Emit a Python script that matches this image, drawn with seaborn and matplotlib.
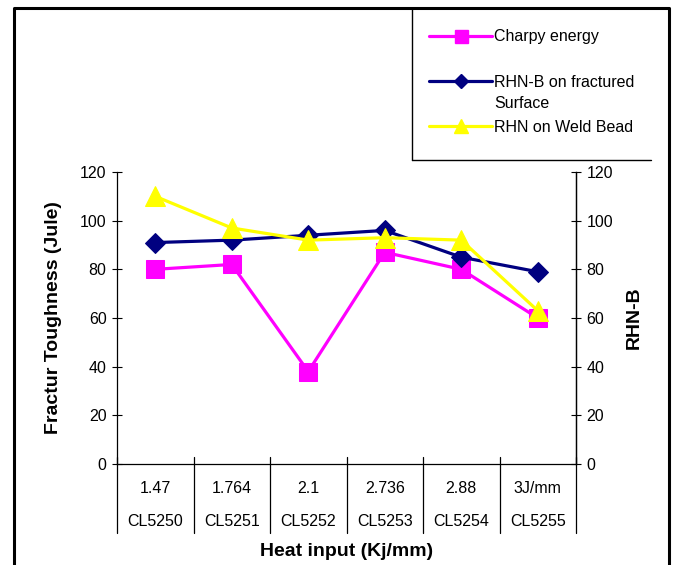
import matplotlib
matplotlib.use("Agg")
import matplotlib.pyplot as plt
from matplotlib.lines import Line2D
from matplotlib.transforms import blended_transform_factory
import seaborn as sns
import pandas as pd

# Weld samples and heat input
heat_input = ["1.47", "1.764", "2.1", "2.736", "2.88", "3J/mm"]
sample_ids = ["CL5250", "CL5251", "CL5252", "CL5253", "CL5254", "CL5255"]

# Measured values
charpy_energy = [80, 82, 38, 87, 80, 60]
rhn_b_fractured = [91, 92, 94, 96, 85, 79]
rhn_weld_bead = [110, 97, 92, 93, 92, 63]

y_ticks = [0, 20, 40, 60, 80, 100, 120]

sns.set_theme(style="white")
plt.rcParams["font.family"] = ["Liberation Sans", "DejaVu Sans"]
plt.rcParams["text.color"] = "black"
plt.rcParams["axes.labelcolor"] = "black"

df = pd.DataFrame({
    "pos": range(len(heat_input)),
    "Charpy energy": charpy_energy,
    "RHN-B on fractured Surface": rhn_b_fractured,
    "RHN on Weld Bead": rhn_weld_bead,
})

fig = plt.figure(figsize=(6.74, 5.65), dpi=100)
ax = fig.add_axes([117 / 674, 1 - 464 / 565, (576 - 117) / 674, (464 - 172) / 565])

series = [
    ("Charpy energy", "#FF00FF", "s", 13),
    ("RHN-B on fractured Surface", "#000080", "D", 10),
    ("RHN on Weld Bead", "#FFFF00", "^", 14),
]
for name, color, marker, ms in series:
    sns.lineplot(data=df, x="pos", y=name, ax=ax, color=color, marker=marker,
                 markersize=ms, markeredgecolor=color, linewidth=2.3,
                 label=name, legend=False)

tick_fs = 11.5
ax.set_xlim(-0.5, len(heat_input) - 0.5)
ax.set_ylim(0, 120)
ax.set_yticks(y_ticks)
ax.set_yticklabels([str(v) for v in y_ticks], fontsize=tick_fs)
ax.tick_params(axis="y", direction="inout", length=7, width=0.8, pad=4, colors="black", left=True)

ax.set_xticks(range(len(heat_input)))
ax.set_xticklabels([f"{h}\n\n{s}" for h, s in zip(heat_input, sample_ids)],
                   fontsize=tick_fs, linespacing=1.15)
ax.tick_params(axis="x", length=0, pad=12, colors="black")

ax.spines["top"].set_visible(False)
for side in ["left", "right", "bottom"]:
    ax.spines[side].set_color("black")
    ax.spines[side].set_linewidth(0.9)

ax.set_xlabel("Heat input (Kj/mm)", fontsize=14, fontweight="bold", labelpad=10)
ax.set_ylabel("Fractur Toughness (Jule)", fontsize=14, fontweight="bold", labelpad=13)

ax2 = ax.twinx()
ax2.set_ylim(0, 120)
ax2.set_yticks(y_ticks)
ax2.set_yticklabels([str(v) for v in y_ticks], fontsize=tick_fs)
ax2.tick_params(axis="y", direction="inout", length=7, width=0.8, pad=4, colors="black", right=True)
for side in ["top", "left", "bottom"]:
    ax2.spines[side].set_visible(False)
ax2.spines["right"].set_color("black")
ax2.spines["right"].set_linewidth(0.9)
ax2.set_ylabel("RHN-B", fontsize=14, fontweight="bold", labelpad=9)

# Category separators forming the table below the axis
trans = blended_transform_factory(ax.transData, ax.transAxes)
for b in [i - 0.5 for i in range(len(heat_input) + 1)]:
    ax.add_line(Line2D([b, b], [0.025, -0.236], transform=trans, color="black",
                       linewidth=0.9, clip_on=False))

# Legend panel in the upper right; the second entry wraps onto a second line
handles = [Line2D([], [], color=c, marker=m, markersize=ms * 0.72, markeredgecolor=c,
                  linewidth=2.3) for _, c, m, ms in series]
legend_labels = ["Charpy energy", "RHN-B on fractured", "RHN on Weld Bead"]
leg = fig.legend(handles, legend_labels, loc="upper left",
                 bbox_to_anchor=(415 / 674, 1 - 15 / 565), frameon=False,
                 fontsize=11.5, handlelength=3.9, handletextpad=0.15,
                 labelspacing=1.9, labelcolor="black")
fig.canvas.draw()
t2 = leg.get_texts()[1]
bb = t2.get_window_extent(fig.canvas.get_renderer())
fig.text(bb.x0 / fig.bbox.width, (bb.y0 - 6) / fig.bbox.height, "Surface",
         fontsize=11.5, ha="left", va="top", color="black")

fig.add_artist(Line2D([412 / 674, 412 / 674], [1 - 8 / 565, 1 - 160 / 565],
                      transform=fig.transFigure, color="black", linewidth=1))
fig.add_artist(Line2D([412 / 674, 651 / 674], [1 - 160 / 565, 1 - 160 / 565],
                      transform=fig.transFigure, color="black", linewidth=1))

# Outer frame
fig.add_artist(Line2D([14 / 674, 14 / 674, 669 / 674, 669 / 674],
                      [0, 1 - 7.5 / 565, 1 - 7.5 / 565, 0],
                      transform=fig.transFigure, color="black", linewidth=2.2))

fig.savefig("out.png", dpi=100)
